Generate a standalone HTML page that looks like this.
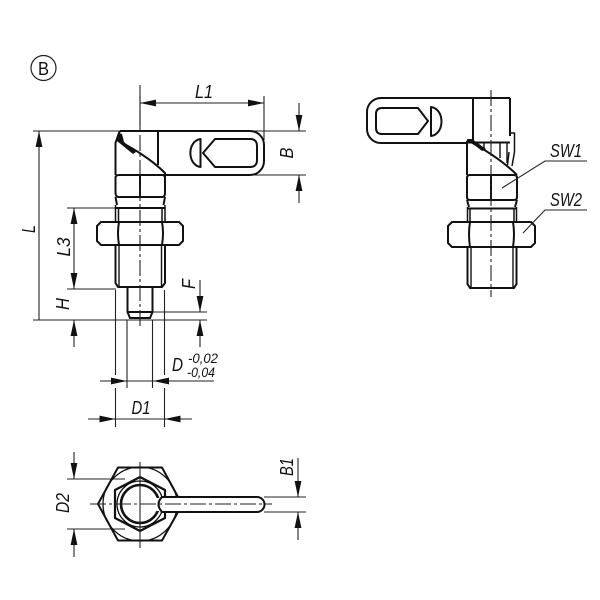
<!DOCTYPE html>
<html>
<head>
<meta charset="utf-8">
<style>
html,body{margin:0;padding:0;background:#fff;width:600px;height:600px;overflow:hidden}
svg{display:block;filter:blur(.3px)}
text{font-family:"Liberation Sans",sans-serif;font-style:italic;fill:#111;font-size:18px}
.m{fill:none;stroke:#111;stroke-width:2;stroke-linejoin:round}
.d{fill:none;stroke:#222;stroke-width:1.1}
.c{fill:none;stroke:#222;stroke-width:1.1;stroke-dasharray:16 3 3 3}
.a{fill:#111;stroke:none}
</style>
</head>
<body>
<svg width="600" height="600" viewBox="0 0 600 600" xmlns="http://www.w3.org/2000/svg">
<defs>
<polygon id="ar" class="a" points="0,0 -16,-3.400 -16,3.400"/>
</defs>

<!-- B circle -->
<circle cx="43.500" cy="68" r="12.500" fill="none" stroke="#222" stroke-width="1.200"/>
<text x="43.500" y="75" text-anchor="middle" textLength="11" lengthAdjust="spacingAndGlyphs" style="font-style:normal">B</text>

<!-- LEFT VIEW: dims -->
<g class="d">
<path d="M33 131H306M165 175H306M140 96V131M264 96V140M140 103H264"/>
<path d="M299 103V131M299 175V203"/>
<path d="M39 131V320M33 320H207M67 208H165M67 289H116"/>
<path d="M74 208V289M74 320V347"/>
<path d="M153 312H207M200 280V312M200 320V347"/>
<path d="M115.500 290V375M115.500 388V427M127 320V388M152.500 320V388M164.500 290V375M164.500 388V427"/>
<path d="M100 381H214M88 419H192"/>
</g>
<use href="#ar" transform="translate(140,103) rotate(180)"/>
<use href="#ar" transform="translate(264,103)"/>
<use href="#ar" transform="translate(299,131) rotate(90)"/>
<use href="#ar" transform="translate(299,175) rotate(-90)"/>
<use href="#ar" transform="translate(39,131) rotate(-90)"/>
<use href="#ar" transform="translate(74,208) rotate(-90)"/>
<use href="#ar" transform="translate(74,289) rotate(90)"/>
<use href="#ar" transform="translate(74,320) rotate(-90)"/>
<use href="#ar" transform="translate(200,312) rotate(90)"/>
<use href="#ar" transform="translate(200,320) rotate(-90)"/>
<use href="#ar" transform="translate(127,381)"/>
<use href="#ar" transform="translate(153,381) rotate(180)"/>
<use href="#ar" transform="translate(115.500,419)"/>
<use href="#ar" transform="translate(164.500,419) rotate(180)"/>

<!-- LEFT VIEW: body -->
<g class="m">
<path d="M120 131H250A14 14 0 0 1 264 145V161A14 14 0 0 1 250 175H163"/>
<path d="M115.500 175V143L119 133L120 131M158 131V165"/>
<path d="M117 140C132 148 150 158 165 173V177"/>
<path d="M119 175H162Q165 175 165 178V193Q165 197 162 197H119Q115.500 197 115.500 193V178Q115.500 175 119 175Z"/>
<path d="M140 175V197"/>
<path d="M115.500 197L117 205M165 197L163.500 205M116 208H165"/>
<path d="M115.500 205V222M165 205V222M118.500 208V222M162 208V222" stroke-width="1.500"/>
<path d="M101 222H179L183 226V241L179 245H101L97 241V226Z"/>
<path d="M119 222Q117 233 119 245M162 222Q164 233 162 245"/>
<path d="M115.500 245V283L118 287H162L165 283V245"/>
<path d="M119 245V287M161.500 245V287" stroke-width="1.400"/>
<path d="M127.500 288V312L130 318H150L152.500 312V288M128 312H152"/>
<path d="M203 153L215 139H250Q257 139 257 146V160Q257 167 250 167H215Z"/>
<path d="M200.500 139V167C187 165 187 141 200.500 139Z"/>
</g>
<path class="a" d="M119 133L122 134L124 142L136 152L133 154L117 141Z"/>
<path class="c" d="M140 85V328"/>

<!-- LABELS LEFT -->
<text x="204" y="98" text-anchor="middle" textLength="18" lengthAdjust="spacingAndGlyphs">L1</text>
<text transform="translate(293,153) rotate(-90)" text-anchor="middle" textLength="11" lengthAdjust="spacingAndGlyphs">B</text>
<text transform="translate(35,229) rotate(-90)" text-anchor="middle" textLength="8" lengthAdjust="spacingAndGlyphs">L</text>
<text transform="translate(70,247) rotate(-90)" text-anchor="middle" textLength="19" lengthAdjust="spacingAndGlyphs">L3</text>
<text transform="translate(69,304) rotate(-90)" text-anchor="middle" textLength="12" lengthAdjust="spacingAndGlyphs">H</text>
<text transform="translate(195,284) rotate(-90)" text-anchor="middle" textLength="10" lengthAdjust="spacingAndGlyphs">F</text>
<text x="177.500" y="371" text-anchor="middle" textLength="11" lengthAdjust="spacingAndGlyphs">D</text>
<text x="188" y="363" style="font-size:14px" textLength="30" lengthAdjust="spacingAndGlyphs">-0,02</text>
<text x="187" y="377" style="font-size:14px" textLength="28" lengthAdjust="spacingAndGlyphs">-0,04</text>
<text x="141" y="414" text-anchor="middle" textLength="19" lengthAdjust="spacingAndGlyphs">D1</text>

<!-- BOTTOM VIEW -->
<g class="d">
<path d="M67 479H125M67 529H125M74 452V479M74 529V557"/>
<path d="M264 497H306M264 512H306M298 458V497M298 512V540"/>
</g>
<use href="#ar" transform="translate(74,479) rotate(90)"/>
<use href="#ar" transform="translate(74,529) rotate(-90)"/>
<use href="#ar" transform="translate(298,497) rotate(90)"/>
<use href="#ar" transform="translate(298,512) rotate(-90)"/>
<g class="m">
<path d="M178 497L162 467.500H118L98 504L118 540.500H162L178 512"/>
<circle cx="140" cy="504" r="37" stroke-width="1.300"/>
<path d="M140 477L165 490V518L140 531L115 518V490Z" stroke-width="2.200"/>
<circle cx="140" cy="504" r="23" stroke-width="1.300"/>
<circle cx="140" cy="504" r="19" stroke-width="2.600"/>
</g>
<rect x="156" y="498" width="106" height="13" fill="#fff"/>
<path class="m" stroke-width="2.200" d="M162 497H257A7.500 7.500 0 0 1 257 512H162Q155 504 162 497Z"/>
<path class="c" d="M90 504H272"/>
<path class="d" d="M140 462V548"/>
<text transform="translate(69,503) rotate(-90)" text-anchor="middle" textLength="20" lengthAdjust="spacingAndGlyphs">D2</text>
<text transform="translate(293,467) rotate(-90)" text-anchor="middle" textLength="18" lengthAdjust="spacingAndGlyphs">B1</text>

<!-- RIGHT VIEW -->
<g class="m">
<path d="M510 98H381A14 14 0 0 0 367 112V129A14 14 0 0 0 381 143H467"/>
<path d="M510 98V136M473 98V142M467 142.500H510"/>
<path d="M511 133H514.500V152L512 166M509 152L507.500 165" stroke-width="1.500"/>
<path d="M467 141V175"/>
<path d="M467 140C482 148 502 160 517 175"/>
<path d="M484 143V150M500 143V158M507 143V163" stroke-width="1.400"/>
<path d="M470 175H514Q517 175 517 178V197Q517 200 514 200H470Q467 200 467 197V178Q467 175 470 175Z"/>
<path d="M491 175V200"/>
<path d="M467 200L469 207M517 200L515 207M468 208.500H516"/>
<path d="M467.500 207V222M516.500 207V222M470 208V222M514 208V222" stroke-width="1.500"/>
<path d="M452 222H531L535 226V243L531 247H452L448 243V226Z"/>
<path d="M470 222Q468 234 470 247M513 222Q515 234 513 247"/>
<path d="M467.500 247V284L470 288H514L516.500 284V247"/>
<path d="M471 247V288M513 247V288" stroke-width="1.400"/>
<path d="M428 121L418 108H382Q376 108 376 114V128Q376 134 382 134H418Z"/>
<path d="M431 107V136C445 134 445 109 431 107Z"/>
</g>
<path class="a" d="M467 139L472 139L486 149L482 151Z"/>
<path class="c" d="M491 90V297"/>
<g class="d">
<path d="M587 161H545L502 188M587 210H545L523 233"/>
</g>
<text x="550" y="157" textLength="32" lengthAdjust="spacingAndGlyphs">SW1</text>
<text x="550" y="206" textLength="32" lengthAdjust="spacingAndGlyphs">SW2</text>
</svg>
</body>
</html>
